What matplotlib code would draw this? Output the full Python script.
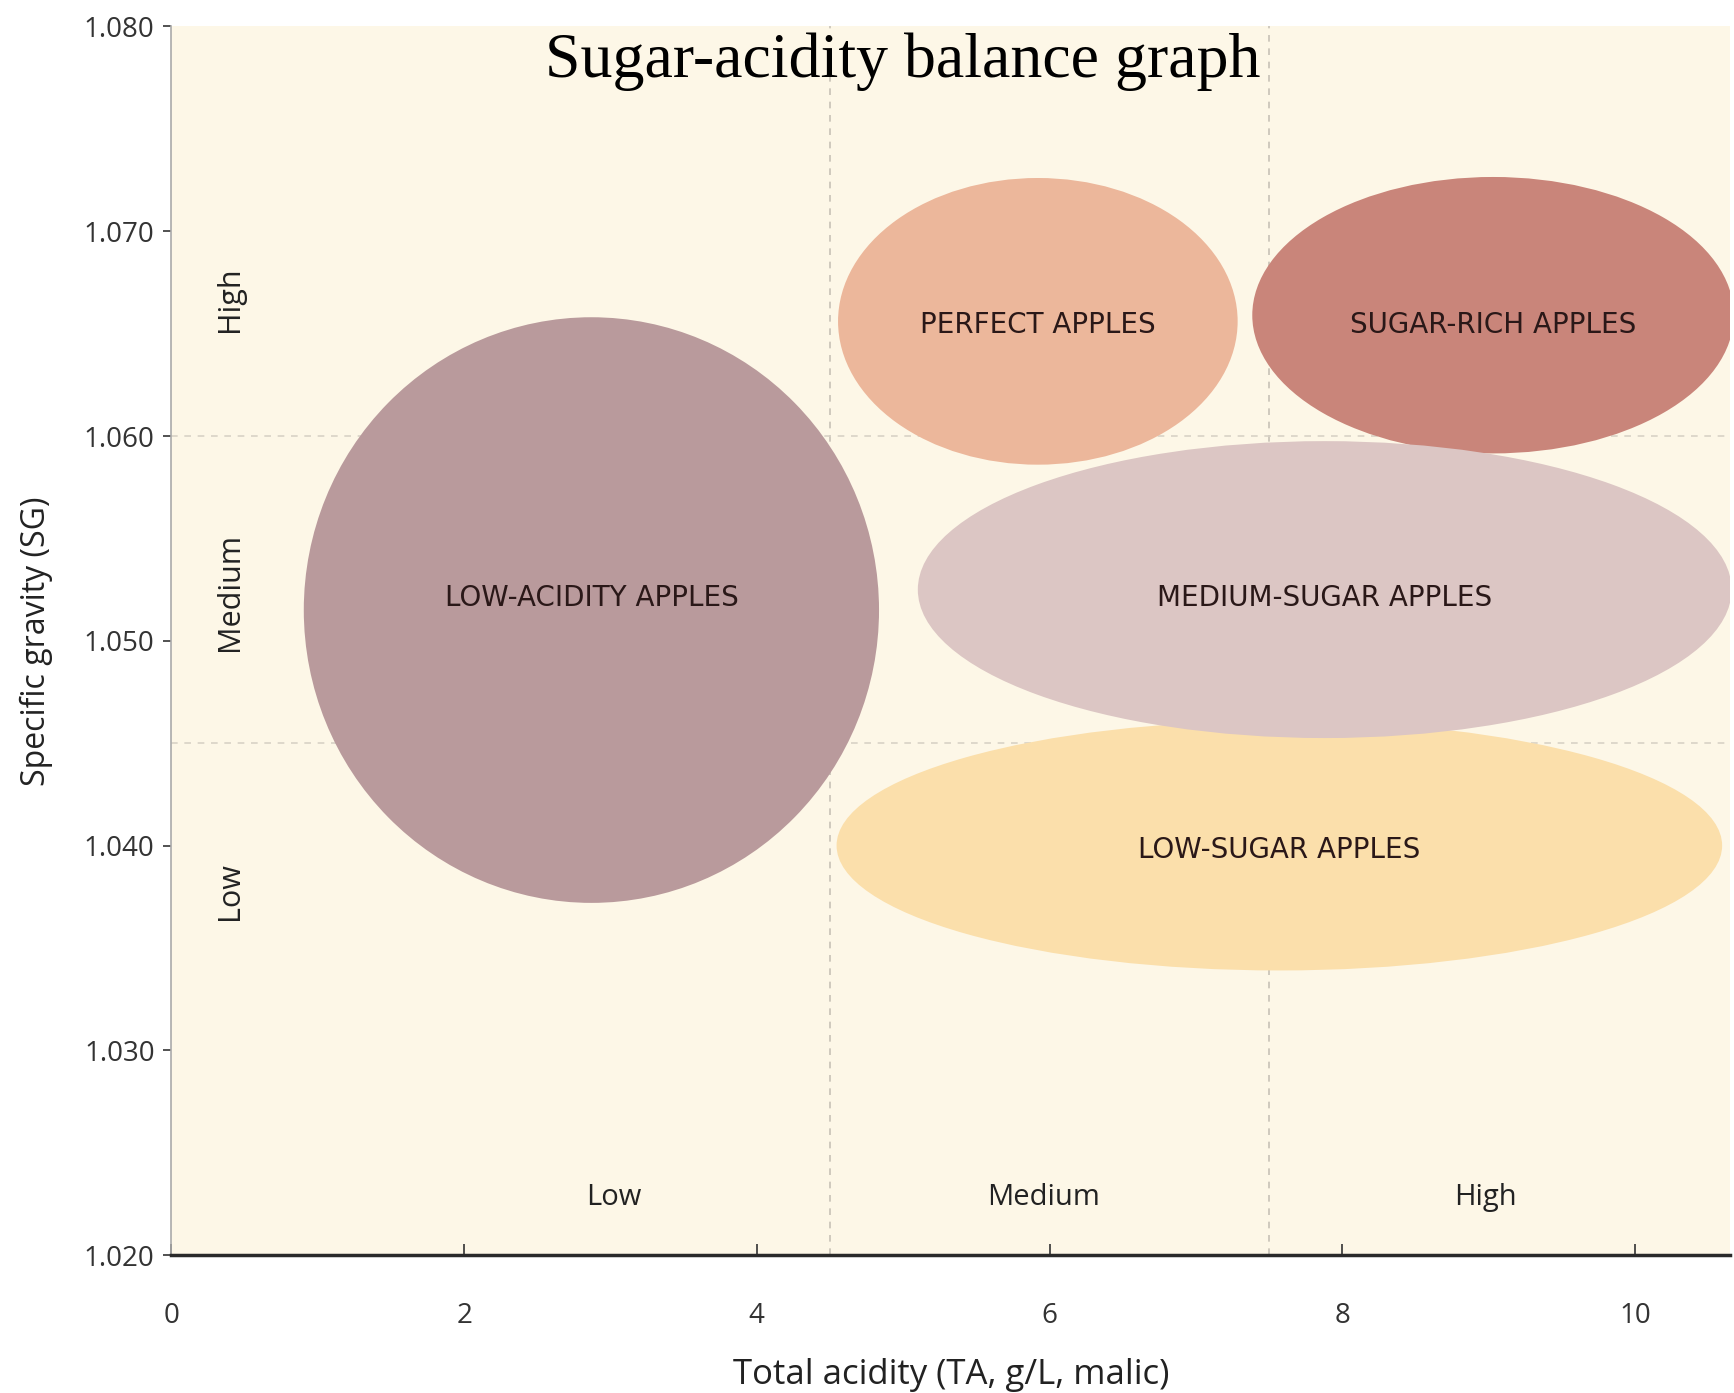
import matplotlib
matplotlib.use("Agg")
import matplotlib.pyplot as plt
from matplotlib.patches import Ellipse

# apple groups: centre (TA, SG), width (TA), height (SG)
groups = ["LOW-SUGAR APPLES", "LOW-ACIDITY APPLES", "PERFECT APPLES",
          "SUGAR-RICH APPLES", "MEDIUM-SUGAR APPLES"]
center_ta = [7.57, 2.87, 5.92, 9.03, 7.88]
center_sg = [1.0400, 1.0515, 1.0656, 1.0659, 1.0525]
width_ta = [6.05, 3.93, 2.73, 3.29, 5.56]
height_sg = [0.0122, 0.0286, 0.0140, 0.0135, 0.0145]
colors = ["#fbdfab", "#b99a9c", "#ecb79b", "#c9857a", "#dcc6c4"]

# label positions inside the ellipses
label_ta = [7.57, 2.87, 5.92, 9.03, 7.88]
label_sg = [1.0398, 1.0521, 1.0654, 1.0654, 1.0521]

x_bands = ["Low", "Medium", "High"]
x_band_pos = [3.02, 5.96, 8.98]
y_bands = ["High", "Medium", "Low"]
y_band_pos = [1.0667, 1.0524, 1.0378]

x_ticks = [0, 2, 4, 6, 8, 10]
y_ticks = [1.020, 1.030, 1.040, 1.050, 1.060, 1.070, 1.080]
x_splits = [4.5, 7.5]
y_splits = [1.060, 1.045]

font = "Open Sans"

fig = plt.figure(figsize=(17.34, 13.93), dpi=100)
ax = fig.add_axes([0.0988, 0.099, 0.899, 0.882])
ax.set_facecolor("#fdf7e7")
ax.set_xlim(0, 10.65)
ax.set_ylim(1.020, 1.080)

for xs in x_splits:
    ax.axvline(xs, color="#c8c2b6", ls=(0, (4, 4)), lw=1.2, zorder=1)
for ys in y_splits:
    ax.axhline(ys, color="#d8d2c6", ls=(0, (4, 4)), lw=1.2, zorder=1)

for i in range(len(groups)):
    e = Ellipse((center_ta[i], center_sg[i]), width_ta[i], height_sg[i],
                facecolor=colors[i], edgecolor="none", zorder=2)
    ax.add_patch(e)
    ax.text(label_ta[i], label_sg[i], groups[i], ha="center", va="center",
            fontsize=20, family="DejaVu Sans", color="#2a1818", zorder=3)

for lab, pos in zip(x_bands, x_band_pos):
    ax.text(pos, 1.0228, lab, ha="center", va="center", fontsize=21,
            family=font, color="#222222")
for lab, pos in zip(y_bands, y_band_pos):
    ax.text(0.40, pos, lab, ha="center", va="center", fontsize=22,
            family=font, color="#222222", rotation=90)

ax.text(5.0, 1.0783, "Sugar-acidity balance graph", ha="center", va="center",
        fontsize=46, family="Liberation Serif", color="black")

ax.set_xticks(x_ticks)
ax.set_xticklabels([str(t) for t in x_ticks], family=font, fontsize=20)
ax.set_yticks(y_ticks)
ax.set_yticklabels(["%.3f" % t for t in y_ticks], family=font, fontsize=20)
ax.tick_params(axis="x", direction="in", length=8, width=1.2, pad=34, colors="#333333")
ax.tick_params(axis="y", direction="out", length=6, width=1.2, pad=6, colors="#333333")

ax.spines["top"].set_visible(False)
ax.spines["right"].set_visible(False)
ax.spines["left"].set_color("#aaaaaa")
ax.spines["left"].set_linewidth(1.2)
ax.spines["bottom"].set_color("#2a2a2a")
ax.spines["bottom"].set_linewidth(2.5)

ax.set_xlabel("Total acidity (TA, g/L, malic)", family=font, fontsize=25,
              labelpad=20, color="#222222")
ax.set_ylabel("Specific gravity (SG)", family=font, fontsize=23,
              labelpad=22, color="#222222")

fig.savefig("out.png", dpi=100)
